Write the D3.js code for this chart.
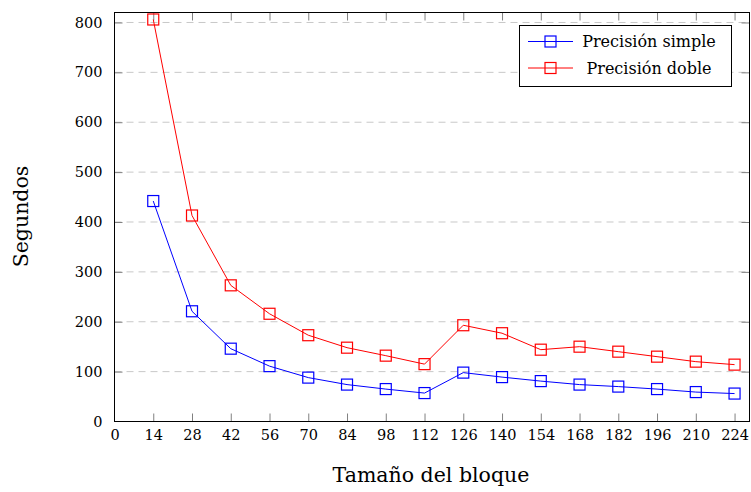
<!DOCTYPE html>
<html>
<head>
<meta charset="utf-8">
<script src="https://cdn.jsdelivr.net/npm/d3@7"></script>
<style>
  body { margin: 0; background: #fff; }
  svg text { font-family: 'DejaVu Serif', serif; fill: #000; }
</style>
</head>
<body>
<svg id="chart" width="751" height="492"></svg>
<script>
const blockSizes = [14, 28, 42, 56, 70, 84, 98, 112, 126, 140, 154, 168, 182, 196, 210, 224]
const simple = [442, 221, 146, 111, 88, 74, 65, 57, 98, 89, 81, 74, 70, 65, 59, 56]
const doble = [806, 413, 273, 216, 173, 148, 132, 115, 193, 177, 144, 150, 140, 130, 120, 114]
const xTicks = [0, 14, 28, 42, 56, 70, 84, 98, 112, 126, 140, 154, 168, 182, 196, 210, 224]
const yTicks = [0, 100, 200, 300, 400, 500, 600, 700, 800]

const series = [
  { name: 'Precisión simple', values: simple, color: '#0000ff' },
  { name: 'Precisión doble', values: doble, color: '#ff0000' },
]

const plotL = 114.5, plotR = 749.5, plotT = 12.5, plotB = 421.5
const svg = d3.select('#chart')

const x = d3.scaleLinear().domain([0, 229.4]).range([plotL, plotR])
const y = d3.scaleLinear().domain([0, 820]).range([plotB, plotT])

// dashed horizontal grid
svg.append('g')
  .selectAll('line')
  .data(yTicks.filter((d) => d > 0))
  .join('line')
  .attr('x1', plotL).attr('x2', plotR)
  .attr('y1', (d) => y(d)).attr('y2', (d) => y(d))
  .style('stroke', '#c8c8c8')
  .style('stroke-width', 1)
  .style('stroke-dasharray', '7,5')

const tickLen = 8
const styleAxis = (g) => {
  g.select('.domain').remove()
  g.selectAll('.tick line').style('stroke', '#808080').style('stroke-width', 1)
  g.selectAll('.tick text')
    .style('font-family', "'DejaVu Serif', serif")
    .style('font-size', '14.5px')
    .style('fill', '#000')
  g.selectAll('.tick line').filter((d) => d === 0).remove()
}

svg.append('g')
  .attr('transform', `translate(0,${plotB})`)
  .call(d3.axisBottom(x).tickValues(xTicks).tickSizeInner(-tickLen).tickSizeOuter(0).tickPadding(8))
  .call(styleAxis)

svg.append('g')
  .attr('transform', `translate(0,${plotT})`)
  .call(d3.axisTop(x).tickValues(xTicks).tickSizeInner(-tickLen).tickSizeOuter(0).tickFormat(''))
  .call(styleAxis)

svg.append('g')
  .attr('transform', `translate(${plotL},0)`)
  .call(d3.axisLeft(y).tickValues(yTicks).tickSizeInner(-tickLen).tickSizeOuter(0).tickPadding(12))
  .call(styleAxis)

svg.append('g')
  .attr('transform', `translate(${plotR},0)`)
  .call(d3.axisRight(y).tickValues(yTicks).tickSizeInner(-tickLen).tickSizeOuter(0).tickFormat(''))
  .call(styleAxis)

// frame
svg.append('rect')
  .attr('x', plotL).attr('y', plotT)
  .attr('width', plotR - plotL).attr('height', plotB - plotT)
  .style('fill', 'none').style('stroke', '#000').style('stroke-width', 1)

const line = d3.line()
  .x((d, i) => x(blockSizes[i]))
  .y((d) => y(d))

const ms = 11
series.forEach((s) => {
  const g = svg.append('g')
  g.append('path')
    .datum(s.values)
    .attr('d', line)
    .style('fill', 'none')
    .style('stroke', s.color)
    .style('stroke-width', 1)
  g.selectAll('rect')
    .data(s.values)
    .join('rect')
    .attr('x', (d, i) => x(blockSizes[i]) - ms / 2)
    .attr('y', (d) => y(d) - ms / 2)
    .attr('width', ms).attr('height', ms)
    .style('fill', 'none')
    .style('stroke', s.color)
    .style('stroke-width', 1.2)
})

// legend
const lg = svg.append('g')
lg.append('rect')
  .attr('x', 519.5).attr('y', 25.5).attr('width', 212).attr('height', 61)
  .style('fill', '#fff').style('stroke', '#000').style('stroke-width', 1)
series.forEach((s, i) => {
  const ly = 41.5 + i * 26.5
  lg.append('line')
    .attr('x1', 528).attr('x2', 573).attr('y1', ly).attr('y2', ly)
    .style('stroke', s.color).style('stroke-width', 1)
  lg.append('rect')
    .attr('x', 550.5 - ms / 2).attr('y', ly - ms / 2).attr('width', ms).attr('height', ms)
    .style('fill', 'none').style('stroke', s.color).style('stroke-width', 1.2)
  lg.append('text')
    .attr('x', 649).attr('y', ly + 5.5)
    .attr('text-anchor', 'middle')
    .style('font-size', '16px')
    .text(s.name)
})

// axis titles
svg.append('text')
  .attr('x', (plotL + plotR) / 2 - 1).attr('y', 482)
  .attr('text-anchor', 'middle')
  .style('font-size', '20.5px')
  .text('Tamaño del bloque')

svg.append('text')
  .attr('transform', 'translate(28,216.5) rotate(-90)')
  .attr('text-anchor', 'middle')
  .style('font-size', '20.5px')
  .text('Segundos')
</script>
</body>
</html>
